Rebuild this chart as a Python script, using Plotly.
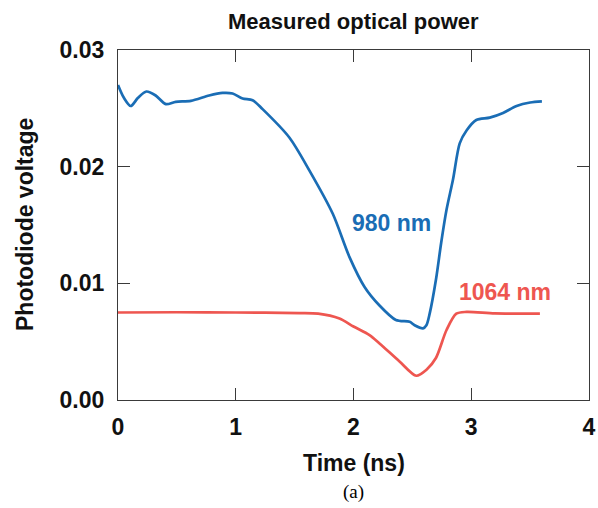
import plotly.graph_objects as go

# Data
blue_x = [0, 0.05, 0.108, 0.17, 0.241, 0.32, 0.406, 0.49, 0.619, 0.774, 0.888, 0.973,
          1.058, 1.143, 1.228, 1.455, 1.626, 1.824, 1.966, 2.094, 2.221, 2.36, 2.477,
          2.519, 2.59, 2.619, 2.647, 2.70, 2.745, 2.79, 2.845, 2.902, 2.96, 3.043,
          3.157, 3.27, 3.385, 3.5, 3.6]
blue_y = [0.0270, 0.0259, 0.0252, 0.0259, 0.02644, 0.0261, 0.02536, 0.02556, 0.02564,
          0.0261, 0.02632, 0.02627, 0.02584, 0.0257, 0.02493, 0.0225, 0.01966, 0.01596,
          0.01225, 0.00969, 0.00810, 0.00686, 0.00670, 0.00641, 0.00614, 0.0064,
          0.0074, 0.0103, 0.0135, 0.0163, 0.0189, 0.0220, 0.0231, 0.0240, 0.0242,
          0.0246, 0.0252, 0.0255, 0.0256]

red_x = [0, 0.5, 1.0, 1.54, 1.7, 1.881, 2.0, 2.136, 2.221, 2.391, 2.533, 2.62, 2.70,
         2.79, 2.873, 2.96, 3.2, 3.583]
red_y = [0.0075, 0.00752, 0.0075, 0.00745, 0.0074, 0.00698, 0.0063, 0.00556, 0.00485,
         0.0033, 0.00208, 0.0026, 0.0036, 0.0060, 0.0074, 0.00755, 0.00742, 0.0074]

x_ticks = [0, 1, 2, 3, 4]
y_ticks = [0.00, 0.01, 0.02, 0.03]
y_tick_text = ["0.00", "0.01", "0.02", "0.03"]

BLUE = "#1a6db5"
RED = "#ee5650"
AXIS = "#3a3a3a"
TXT = "#111111"
FONT = "Liberation Sans"
FS = 23

fig = go.Figure()
fig.add_trace(go.Scatter(x=blue_x, y=blue_y, mode="lines",
                         line=dict(color=BLUE, width=2.7, shape="spline", smoothing=0.8),
                         showlegend=False, hoverinfo="skip"))
fig.add_trace(go.Scatter(x=red_x, y=red_y, mode="lines",
                         line=dict(color=RED, width=2.7, shape="spline", smoothing=0.8),
                         showlegend=False, hoverinfo="skip"))

fig.add_annotation(x=2.323, y=0.0152, text="<b>980 nm</b>", showarrow=False,
                   xanchor="center", yanchor="middle",
                   font=dict(family=FONT, size=FS, color=BLUE))
fig.add_annotation(x=3.285, y=0.0093, text="<b>1064 nm</b>", showarrow=False,
                   xanchor="center", yanchor="middle",
                   font=dict(family=FONT, size=FS, color=RED))
# title and axis titles
fig.add_annotation(x=0.5, y=1 + 28 / 350, xref="paper", yref="paper", text="<b>Measured optical power</b>",
                   xanchor="center", yanchor="middle",
                   showarrow=False, font=dict(family=FONT, size=22, color=TXT))
fig.add_annotation(x=0.5, y=-63 / 350, xref="paper", yref="paper", text="<b>Time (ns)</b>",
                   xanchor="center", yanchor="middle",
                   showarrow=False, font=dict(family=FONT, size=FS, color=TXT))
fig.add_annotation(x=-93 / 471, y=0.5, xref="paper", yref="paper", text="<b>Photodiode voltage</b>",
                   xanchor="center", yanchor="middle",
                   textangle=-90, showarrow=False, font=dict(family=FONT, size=FS, color=TXT))
fig.add_annotation(x=0.5, y=-92 / 350, xref="paper", yref="paper", text="(a)", showarrow=False,
                   xanchor="center", yanchor="middle",
                   font=dict(family="Liberation Serif", size=19, color="black"))

fig.update_layout(
    width=598, height=508,
    margin=dict(l=118, r=9, t=50, b=108, autoexpand=False),
    paper_bgcolor="white", plot_bgcolor="white",
    xaxis=dict(range=[0, 4], tickvals=x_ticks, ticktext=["<b>%d</b>" % t for t in x_ticks],
               ticks="inside", ticklen=12, tickcolor=AXIS, tickwidth=1.2,
               showline=True, linecolor=AXIS, linewidth=1.3, mirror="ticks", showgrid=False, zeroline=False,
               tickfont=dict(family=FONT, size=FS, color=TXT), ticklabelstandoff=6, automargin=False),
    yaxis=dict(range=[0, 0.03], tickvals=y_ticks, ticktext=["<b>%s</b>" % t for t in y_tick_text],
               ticks="inside", ticklen=12, tickcolor=AXIS, tickwidth=1.2,
               showline=True, linecolor=AXIS, linewidth=1.3, mirror="ticks", showgrid=False, zeroline=False,
               tickfont=dict(family=FONT, size=FS, color=TXT), ticklabelstandoff=8, automargin=False),
)

fig.write_html("out.html", config={"displayModeBar": False},
               post_script="document.body.style.margin='0px';")
